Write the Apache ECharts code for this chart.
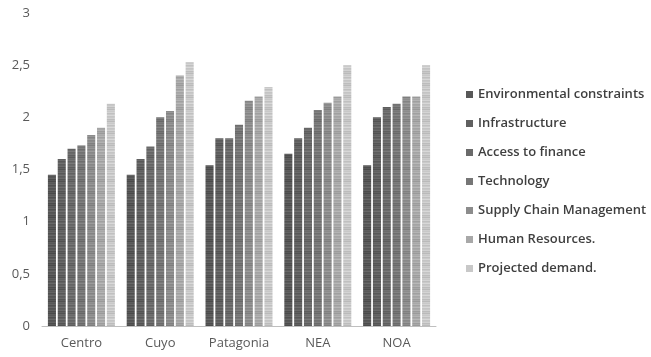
<!DOCTYPE html>
<html>
<head>
<meta charset="utf-8">
<script src="https://cdn.jsdelivr.net/npm/echarts@6/dist/echarts.min.js"></script>
<style>
  html, body { margin: 0; padding: 0; background: #fff; }
  #chart { width: 651px; height: 357px; }
</style>
</head>
<body>
<div id="chart"></div>
<script>
// Regions on the x axis
const regions = ['Centro', 'Cuyo', 'Patagonia', 'NEA', 'NOA'];

// One value per region for each factor
const environmentalConstraints = [1.45, 1.45, 1.54, 1.65, 1.54];
const infrastructure          = [1.60, 1.60, 1.80, 1.80, 2.00];
const accessToFinance         = [1.70, 1.72, 1.80, 1.90, 2.10];
const technology              = [1.73, 2.00, 1.93, 2.07, 2.13];
const supplyChainManagement   = [1.83, 2.06, 2.16, 2.14, 2.20];
const humanResources          = [1.90, 2.40, 2.20, 2.20, 2.20];
const projectedDemand         = [2.13, 2.53, 2.29, 2.50, 2.50];

const seriesNames = [
  'Environmental constraints',
  'Infrastructure',
  'Access to finance',
  'Technology',
  'Supply Chain Management',
  'Human Resources.',
  'Projected demand.'
];
const seriesValues = [
  environmentalConstraints, infrastructure, accessToFinance, technology,
  supplyChainManagement, humanResources, projectedDemand
];
const grays = [88, 96, 106, 118, 140, 168, 200];

// Horizontal-line texture used to fill each bar
const stripeOffsets = [0, -14, 6, 0, 12, -8, 2, 16, -4, 0, 10, -12];
function stripePattern(g) {
  const c = document.createElement('canvas');
  c.width = 4;
  c.height = stripeOffsets.length;
  const ctx = c.getContext('2d');
  stripeOffsets.forEach((d, i) => {
    const v = Math.max(0, Math.min(255, g + d));
    ctx.fillStyle = `rgb(${v},${v},${v})`;
    ctx.fillRect(0, i, 4, 1);
  });
  return c;
}
const solid = g => `rgb(${g},${g},${g})`;

const chart = echarts.init(document.getElementById('chart'), null, { renderer: 'canvas' });

chart.setOption({
  backgroundColor: '#ffffff',
  animation: false,
  textStyle: { fontFamily: 'Open Sans' },
  grid: { left: 42, right: 215, top: 13, bottom: 31 },
  legend: {
    orient: 'vertical',
    left: 461,
    top: 83,
    itemWidth: 7,
    itemHeight: 7,
    itemGap: 16,
    icon: 'rect',
    textStyle: { fontSize: 13, fontWeight: 600, color: '#3f3f3f', fontFamily: 'Open Sans' },
    data: seriesNames.map((n, i) => ({ name: n, itemStyle: { color: solid(grays[i]) } }))
  },
  xAxis: {
    type: 'category',
    data: regions,
    axisLine: { lineStyle: { color: '#bfbfbf', width: 1 } },
    axisTick: { show: false },
    axisLabel: { color: '#595959', fontSize: 13, margin: 11, interval: 0 }
  },
  yAxis: {
    type: 'value',
    min: 0,
    max: 3,
    interval: 0.5,
    axisLine: { show: false },
    axisTick: { show: false },
    splitLine: { show: false },
    axisLabel: {
      color: '#595959',
      fontSize: 13,
      margin: 12,
      formatter: v => String(v).replace('.', ',')
    }
  },
  series: seriesNames.map((name, i) => ({
    name,
    type: 'bar',
    data: seriesValues[i],
    barGap: '22%',
    barCategoryGap: '15%',
    itemStyle: {
      color: { image: stripePattern(grays[i]), repeat: 'repeat' }
    }
  }))
});
</script>
</body>
</html>
